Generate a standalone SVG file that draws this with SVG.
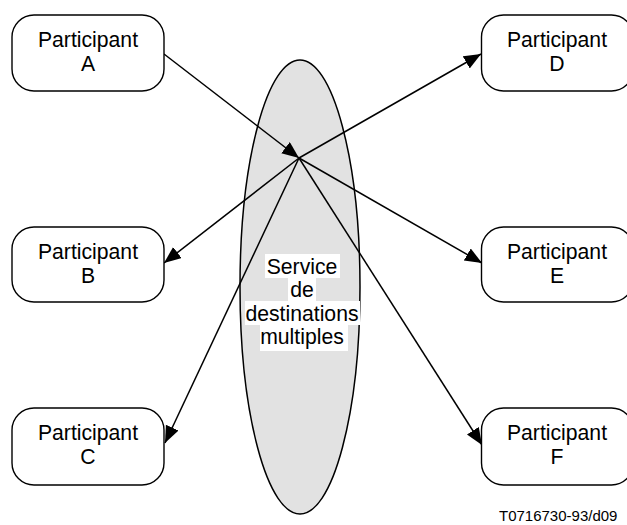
<svg xmlns="http://www.w3.org/2000/svg" width="627" height="525" viewBox="0 0 627 525">
<style>
.box{fill:#fff;stroke:#000;stroke-width:1.4}
.t{font-family:"Liberation Sans",Arial,sans-serif;font-size:21.2px;fill:#000;text-anchor:middle}
.ln{stroke:#000;stroke-width:1.5;fill:none;marker-end:url(#ah)}
.bg{fill:#fff}
</style>
<defs>
<marker id="ah" markerUnits="userSpaceOnUse" markerWidth="18" markerHeight="15" refX="17" refY="7" orient="auto">
<path d="M0,0 L17,7 L0,14 z" fill="#000"/>
</marker>
</defs>
<rect width="627" height="525" fill="#fff"/>
<g id="service">
<ellipse cx="300" cy="287" rx="60" ry="227" fill="#e2e2e2" stroke="#000" stroke-width="1.5"/>
</g>
<g id="connectors">
<line class="ln" x1="164" y1="54" x2="299" y2="158"/>
<line class="ln" x1="299" y1="158" x2="481" y2="54"/>
<line class="ln" x1="299" y1="158" x2="164" y2="263"/>
<line class="ln" x1="299" y1="158" x2="482" y2="263"/>
<line class="ln" x1="299" y1="158" x2="165" y2="443"/>
<line class="ln" x1="299" y1="158" x2="482" y2="445"/>
</g>
<g id="service-label">
<rect class="bg" x="265" y="254" width="75" height="24"/>
<rect class="bg" x="288" y="278" width="28" height="24"/>
<rect class="bg" x="245" y="301" width="115" height="24"/>
<rect class="bg" x="260" y="325" width="88" height="26"/>
<text class="t" x="302" y="273.5">Service</text>
<text class="t" x="302" y="297">de</text>
<text class="t" x="302" y="320.5">destinations</text>
<text class="t" x="302" y="344">multiples</text>
</g>
<g id="nodeA">
<rect class="box" x="12" y="15" width="152" height="76" rx="22"/>
<text class="t" x="88" y="47">Participant</text>
<text class="t" x="88" y="71">A</text>
</g>
<g id="nodeB">
<rect class="box" x="12" y="227" width="152" height="75" rx="22"/>
<text class="t" x="88" y="258.5">Participant</text>
<text class="t" x="88" y="282.5">B</text>
</g>
<g id="nodeC">
<rect class="box" x="12" y="408" width="152" height="77" rx="22"/>
<text class="t" x="88" y="440">Participant</text>
<text class="t" x="88" y="464">C</text>
</g>
<g id="nodeD">
<rect class="box" x="481.5" y="15" width="152" height="76" rx="22"/>
<text class="t" x="557" y="47">Participant</text>
<text class="t" x="557" y="71">D</text>
</g>
<g id="nodeE">
<rect class="box" x="481.5" y="227" width="152" height="75" rx="22"/>
<text class="t" x="557" y="258.5">Participant</text>
<text class="t" x="557" y="282.5">E</text>
</g>
<g id="nodeF">
<rect class="box" x="481.5" y="408" width="152" height="77" rx="22"/>
<text class="t" x="557" y="440">Participant</text>
<text class="t" x="557" y="464">F</text>
</g>
<text x="499" y="521" font-family="Liberation Sans, Arial, sans-serif" font-size="15" fill="#000">T0716730-93/d09</text>
</svg>
